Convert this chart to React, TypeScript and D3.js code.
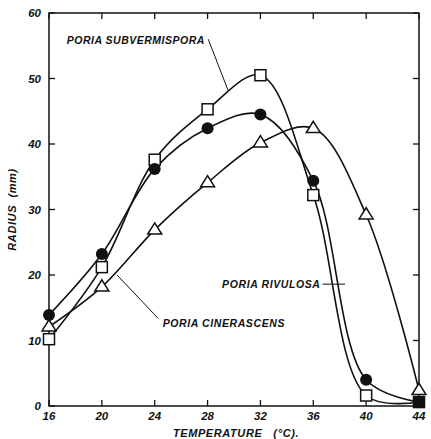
import React from "react";
import * as d3 from "d3";

const temps = [16, 20, 24, 28, 32, 36, 40, 44];
const subvermispora = [10.2, 21.2, 37.6, 45.3, 50.5, 32.2, 1.6, 0.6];
const rivulosa = [13.9, 23.2, 36.2, 42.4, 44.5, 34.4, 4.0, 0.6];
const cinerascens = [12.1, 18.2, 26.9, 34.1, 40.2, 42.4, 29.2, 2.4];
const xTicks = [16, 20, 24, 28, 32, 36, 40, 44];
const yTicks = [0, 10, 20, 30, 40, 50, 60];

const W = 431, H = 439;
const m = { left: 49, top: 13, right: 12, bottom: 33 };
const FONT = "'Liberation Sans', Arial, sans-serif";

export default function App() {
  const x = d3.scaleLinear().domain([16, 44]).range([m.left, W - m.right]);
  const y = d3.scaleLinear().domain([0, 60]).range([H - m.bottom, m.top]);
  const line = d3
    .line<number>()
    .x((_, i) => x(temps[i]))
    .y((d) => y(d))
    .curve(d3.curveCatmullRom.alpha(0.5));

  const x0 = x(16), x1 = x(44), y0 = y(0), y1 = y(60);
  const tickLen = 6;
  const txt = {
    fontFamily: FONT,
    fontStyle: "italic" as const,
    fontWeight: 700,
    fill: "#111",
  };

  return (
    <div style={{ position: "fixed", left: 0, top: 0 }}>
      <svg width={W} height={H} style={{ display: "block", background: "#fff" }}>
        {/* frame */}
        <rect x={x0} y={y1} width={x1 - x0} height={y0 - y1} fill="none" stroke="#111" strokeWidth={1.5} />
        {xTicks.map((t) => (
          <g key={"xt" + t}>
            <line x1={x(t)} x2={x(t)} y1={y0} y2={y0 - tickLen} stroke="#111" strokeWidth={1.3} />
            <line x1={x(t)} x2={x(t)} y1={y1} y2={y1 + tickLen} stroke="#111" strokeWidth={1.3} />
            <text x={x(t)} y={y0 + 14} textAnchor="middle" fontSize={11.5} {...txt}>
              {t}
            </text>
          </g>
        ))}
        {yTicks.map((t) => (
          <g key={"yt" + t}>
            <line x1={x0} x2={x0 + tickLen} y1={y(t)} y2={y(t)} stroke="#111" strokeWidth={1.3} />
            <line x1={x1} x2={x1 - tickLen} y1={y(t)} y2={y(t)} stroke="#111" strokeWidth={1.3} />
            <text x={x0 - 8} y={y(t) + 4} textAnchor="end" fontSize={11.5} {...txt}>
              {t}
            </text>
          </g>
        ))}

        {/* curves */}
        {[subvermispora, rivulosa, cinerascens].map((s, i) => (
          <path key={"c" + i} d={line(s) || ""} fill="none" stroke="#111" strokeWidth={1.6} />
        ))}

        {/* triangles */}
        {cinerascens.map((v, i) => {
          const cx = x(temps[i]), cy = y(v);
          const r = 7;
          return (
            <path
              key={"t" + i}
              d={`M${cx},${cy - r}L${cx + r},${cy + r * 0.6}L${cx - r},${cy + r * 0.6}Z`}
              fill="#fff"
              stroke="#111"
              strokeWidth={1.5}
            />
          );
        })}
        {/* squares */}
        {subvermispora.map((v, i) => (
          <rect
            key={"s" + i}
            x={x(temps[i]) - 5.5}
            y={y(v) - 5.5}
            width={11}
            height={11}
            fill={i === temps.length - 1 ? "#111" : "#fff"}
            stroke="#111"
            strokeWidth={1.5}
          />
        ))}
        {/* circles */}
        {rivulosa.map((v, i) =>
          i === temps.length - 1 ? null : (
            <circle key={"r" + i} cx={x(temps[i])} cy={y(v)} r={6} fill="#111" />
          )
        )}

        {/* annotations */}
        <text x={x(17.35)} y={y(55.3)} fontSize={10.5} letterSpacing={0.5} {...txt}>
          PORIA  SUBVERMISPORA
        </text>
        <line x1={x(28.05)} y1={y(56)} x2={x(29.55)} y2={y(48.2)} stroke="#111" strokeWidth={1} />

        <text x={x(29.1)} y={y(18.0)} fontSize={10.5} letterSpacing={0.6} {...txt}>
          PORIA  RIVULOSA
        </text>
        <line x1={x(36.7)} y1={y(18.6)} x2={x(38.4)} y2={y(18.6)} stroke="#111" strokeWidth={1} />

        <text x={x(24.6)} y={y(12.0)} fontSize={10.5} letterSpacing={0.6} {...txt}>
          PORIA  CINERASCENS
        </text>
        <line x1={x(24.25)} y1={y(13.4)} x2={x(21.15)} y2={y(20.0)} stroke="#111" strokeWidth={1} />

        {/* axis titles */}
        <text x={236} y={437} textAnchor="middle" fontSize={11} letterSpacing={0.6} {...txt} xmlSpace="preserve">
          TEMPERATURE   (°C).
        </text>
        <text
          transform={`translate(16, ${(y0 + y1) / 2}) rotate(-90)`}
          textAnchor="middle"
          fontSize={11}
          letterSpacing={0.6}
          {...txt}
          xmlSpace="preserve"
        >
          RADIUS  (mm)
        </text>
      </svg>
    </div>
  );
}
